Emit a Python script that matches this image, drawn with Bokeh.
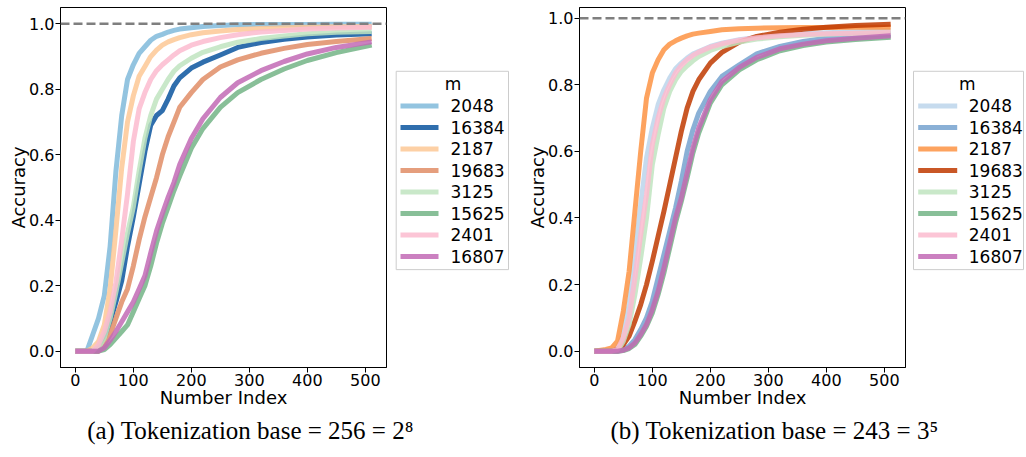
from bokeh.plotting import figure
from bokeh.models import Span, FixedTicker, NumeralTickFormatter, Range1d
from bokeh.core.properties import value
from bokeh.layouts import row, column
from bokeh.embed import file_html
from bokeh.resources import INLINE

# ---------------- data ----------------
X = [0, 20, 30, 40, 50, 60, 70, 80, 90, 100, 110, 120, 130, 140, 150, 160,
     170, 180, 200, 220, 250, 280, 320, 360, 400, 450, 511]

m_labels = ["2048", "16384", "2187", "19683", "3125", "15625", "2401", "16807"]

# (a) base 256
a_2048 = [0, 0.0, 0.05, 0.10, 0.17, 0.32, 0.55, 0.72, 0.83, 0.875, 0.91, 0.93, 0.95, 0.962,
          0.968, 0.975, 0.98, 0.984, 0.988, 0.992, 0.995, 0.997, 0.998, 0.998, 0.998, 0.999, 0.999]
a_16384 = [0, 0, 0, 0.01, 0.04, 0.09, 0.15, 0.215, 0.32, 0.41, 0.51, 0.61, 0.69, 0.72,
           0.735, 0.77, 0.81, 0.835, 0.865, 0.883, 0.905, 0.928, 0.943, 0.953, 0.96, 0.966, 0.97]
a_2187 = [0, 0, 0.01, 0.03, 0.08, 0.19, 0.37, 0.56, 0.70, 0.78, 0.84, 0.87, 0.90, 0.92,
          0.935, 0.945, 0.952, 0.958, 0.967, 0.973, 0.978, 0.983, 0.986, 0.988, 0.99, 0.991, 0.992]
a_19683 = [0, 0, 0, 0, 0.02, 0.05, 0.10, 0.15, 0.19, 0.26, 0.34, 0.41, 0.47, 0.53,
           0.60, 0.655, 0.70, 0.745, 0.79, 0.83, 0.868, 0.89, 0.91, 0.925, 0.937, 0.946, 0.955]
a_3125 = [0, 0, 0, 0.01, 0.04, 0.10, 0.18, 0.27, 0.36, 0.44, 0.55, 0.65, 0.72, 0.77,
          0.80, 0.83, 0.855, 0.872, 0.895, 0.913, 0.93, 0.944, 0.955, 0.963, 0.97, 0.974, 0.977]
a_15625 = [0, 0, 0, 0, 0.005, 0.02, 0.04, 0.06, 0.08, 0.12, 0.16, 0.20, 0.26, 0.33,
           0.39, 0.44, 0.49, 0.535, 0.62, 0.68, 0.745, 0.79, 0.83, 0.862, 0.888, 0.912, 0.935]
a_2401 = [0, 0, 0, 0.02, 0.06, 0.12, 0.21, 0.34, 0.48, 0.64, 0.74, 0.79, 0.83, 0.857,
          0.875, 0.89, 0.905, 0.918, 0.935, 0.946, 0.958, 0.967, 0.975, 0.98, 0.984, 0.987, 0.99]
a_16807 = [0, 0, 0, 0, 0.01, 0.033, 0.06, 0.09, 0.12, 0.15, 0.19, 0.23, 0.30, 0.367,
           0.42, 0.47, 0.515, 0.57, 0.65, 0.71, 0.775, 0.82, 0.857, 0.885, 0.908, 0.928, 0.945]

# (b) base 243
b_2048 = [0, 0, 0, 0.01, 0.05, 0.14, 0.29, 0.44, 0.58, 0.67, 0.74, 0.785, 0.82, 0.848,
          0.865, 0.88, 0.892, 0.90, 0.915, 0.925, 0.935, 0.942, 0.949, 0.953, 0.956, 0.959, 0.962]
b_16384 = [0, 0, 0, 0, 0.005, 0.015, 0.035, 0.065, 0.10, 0.15, 0.22, 0.29, 0.36, 0.43,
           0.51, 0.60, 0.665, 0.715, 0.78, 0.825, 0.86, 0.893, 0.915, 0.93, 0.94, 0.947, 0.952]
b_2187 = [0, 0.005, 0.01, 0.03, 0.12, 0.24, 0.42, 0.60, 0.76, 0.835, 0.875, 0.905, 0.922, 0.932,
          0.94, 0.947, 0.952, 0.955, 0.96, 0.965, 0.968, 0.97, 0.971, 0.972, 0.972, 0.973, 0.973]
b_19683 = [0, 0, 0, 0.005, 0.02, 0.045, 0.09, 0.14, 0.20, 0.27, 0.345, 0.42, 0.50, 0.58,
           0.66, 0.73, 0.78, 0.815, 0.865, 0.897, 0.928, 0.945, 0.958, 0.967, 0.973, 0.978, 0.982]
b_3125 = [0, 0, 0, 0, 0.03, 0.08, 0.17, 0.28, 0.40, 0.56, 0.65, 0.73, 0.78, 0.815,
          0.84, 0.857, 0.872, 0.885, 0.903, 0.915, 0.928, 0.937, 0.944, 0.949, 0.952, 0.954, 0.956]
b_15625 = [0, 0, 0, 0, 0.002, 0.008, 0.02, 0.045, 0.075, 0.115, 0.17, 0.235, 0.31, 0.385,
           0.45, 0.52, 0.595, 0.655, 0.745, 0.80, 0.845, 0.875, 0.902, 0.918, 0.928, 0.936, 0.943]
b_2401 = [0, 0, 0, 0.005, 0.04, 0.10, 0.22, 0.35, 0.47, 0.62, 0.70, 0.76, 0.80, 0.835,
          0.858, 0.875, 0.888, 0.898, 0.913, 0.923, 0.934, 0.941, 0.947, 0.951, 0.953, 0.955, 0.957]
b_16807 = [0, 0, 0, 0, 0.003, 0.01, 0.025, 0.05, 0.08, 0.125, 0.18, 0.25, 0.325, 0.40,
           0.46, 0.535, 0.61, 0.67, 0.755, 0.81, 0.852, 0.882, 0.908, 0.922, 0.932, 0.94, 0.947]

a_series = [a_2048, a_16384, a_2187, a_19683, a_3125, a_15625, a_2401, a_16807]
b_series = [b_2048, b_16384, b_2187, b_19683, b_3125, b_15625, b_2401, b_16807]

a_colors = ["#80badb", "#0a559f", "#fdc895", "#e18d66", "#bfe4bf", "#73b486", "#fcbbcf", "#c26ab5"]
b_colors = ["#bcd5eb", "#76a2cf", "#fd9343", "#bf3a00", "#bfe4bf", "#73b486", "#fcbbcf", "#c26ab5"]

x_ticks = [0, 100, 200, 300, 400, 500]
y_ticks = [0.0, 0.2, 0.4, 0.6, 0.8, 1.0]
reference_level = 1.0

captions = ["(a) Tokenization base = 256 = 2\u2078", "(b) Tokenization base = 243 = 3\u2075"]

FONT = "DejaVu Sans"
H = 412
CAP_H = 45


def make_panel(series, colors, y_lo, y_hi, width, mbl, mbr):
    p = figure(width=width, height=H,
               x_range=Range1d(-25.55, 536.55), y_range=Range1d(y_lo, y_hi),
               output_backend="svg", toolbar_location=None,
               min_border_left=mbl, min_border_right=mbr,
               min_border_top=7, min_border_bottom=45,
               background_fill_color="white", border_fill_color="white",
               outline_line_color="black", outline_line_width=1)
    p.xgrid.visible = False
    p.ygrid.visible = False
    p.xaxis.ticker = FixedTicker(ticks=x_ticks)
    p.yaxis.ticker = FixedTicker(ticks=y_ticks)
    p.yaxis.formatter = NumeralTickFormatter(format="0.0")
    for ax in (p.xaxis[0], p.yaxis[0]):
        ax.major_label_text_font = FONT
        ax.major_label_text_font_size = "16px"
        ax.major_label_text_color = "black"
        ax.axis_label_text_font = FONT
        ax.axis_label_text_font_size = "18px"
        ax.axis_label_text_font_style = "normal"
        ax.axis_label_text_color = "black"
        ax.major_tick_out = 5
        ax.major_tick_in = 0
        ax.minor_tick_line_color = None
        ax.axis_line_color = "black"
        ax.major_tick_line_color = "black"
        ax.major_label_standoff = 1
    p.xaxis.axis_label_standoff = -2
    p.yaxis.axis_label_standoff = -3
    p.xaxis.axis_label = "Number Index"
    p.yaxis.axis_label = "Accuracy"

    for ys, c in zip(series, colors):
        p.line(X, ys, line_color=c, line_width=5, line_alpha=0.85, line_join="round")

    p.add_layout(Span(location=reference_level, dimension="width",
                      line_color="#7f7f7f", line_width=2.5, line_dash="9 4"))
    return p


def make_legend(width, colors, box_l, box_r, ln_l, ln_r, txt_x, title_x):
    f = figure(width=width, height=H, x_range=Range1d(0, width),
               y_range=Range1d(H, 0), output_backend="svg",
               toolbar_location=None, min_border=0,
               x_axis_type=None, y_axis_type=None, outline_line_color=None,
               background_fill_color="white", border_fill_color="white")
    top, bottom = 73, 300
    f.quad(left=[box_l], right=[box_r], top=[top], bottom=[bottom],
           fill_color="white", line_color="#cccccc", line_width=1)
    ys = [112.7 + 24.6 * i for i in range(len(m_labels))]
    f.segment(x0=[ln_l] * len(ys), y0=ys, x1=[ln_r] * len(ys), y1=ys,
              line_color=colors, line_width=5, line_alpha=0.85)
    f.text(x=[txt_x] * len(ys), y=ys, text=m_labels, text_font=value(FONT),
           text_font_size="17px", text_baseline="middle", text_align="left",
           text_color="black")
    f.text(x=[title_x], y=[88], text=["m"], text_font=value(FONT),
           text_font_size="17px", text_baseline="middle", text_align="center",
           text_color="black")
    return f


p1 = make_panel(a_series, a_colors, -0.05, 1.05, 391, 60, 5)
l1 = make_legend(133, a_colors, 4.7, 117, 9, 47, 59, 61.5)
p2 = make_panel(b_series, b_colors, -0.049, 1.032, 386, 55, 5)
l2 = make_legend(116, b_colors, 3, 113, 7.7, 46.7, 58.3, 56.7)

# caption strip below both panels
cap = figure(width=1026, height=CAP_H, x_range=Range1d(0, 1026),
             y_range=Range1d(CAP_H, 0), output_backend="svg",
             toolbar_location=None, min_border=0,
             x_axis_type=None, y_axis_type=None, outline_line_color=None,
             background_fill_color="white", border_fill_color="white")
cap.text(x=[250, 774], y=[18, 18], text=captions,
         text_font=value("Liberation Serif"), text_font_size="25px",
         text_align="center", text_baseline="middle", text_color="black")

layout = column(row(p1, l1, p2, l2), cap)
open("out.html", "w").write(file_html(layout, INLINE))
